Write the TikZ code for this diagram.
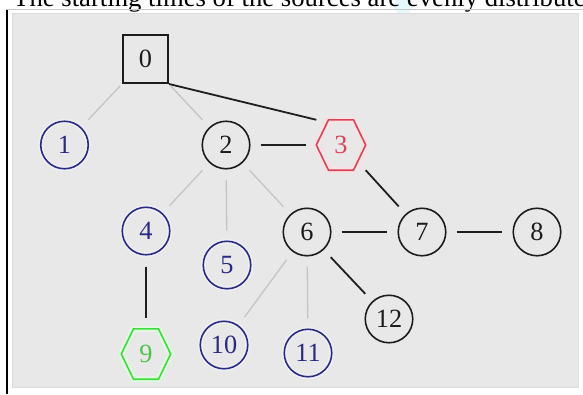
\documentclass[tikz,border=0pt]{standalone}
\usepackage{fontspec}
\setmainfont{Liberation Serif}
\usetikzlibrary{calc}

\definecolor{panelgray}{HTML}{E8E8E8}
\definecolor{paneledge}{HTML}{DCDCDC}
\definecolor{edgegray}{HTML}{C4C4C4}
\definecolor{edgedark}{HTML}{1E1E1E}
\definecolor{inkblack}{HTML}{1C1C1C}
\definecolor{navy}{HTML}{2A2A82}
\definecolor{hexred}{HTML}{D84458}
\definecolor{hexgreen}{HTML}{3CDC3C}
\definecolor{hexgreentext}{HTML}{4CC44C}

\tikzset{
  lbl/.style={font=\fontsize{26.3}{30}\selectfont, inner sep=0pt},
  circnode/.style={lbl, circle, draw=inkblack, line width=1.6pt,
    minimum size=47.5pt, text=inkblack},
  bluenode/.style={circnode, draw=navy, text=navy,
    preaction={draw=navy!8, line width=5pt}},
  squarenode/.style={lbl, rectangle, draw=inkblack, line width=2pt,
    minimum width=45pt, minimum height=48pt, text=inkblack},
  hexbox/.style={lbl, rectangle, minimum width=49pt, minimum height=50pt},
  softedge/.style={draw=edgegray, line width=1.3pt,
    shorten <=10pt, shorten >=10pt},
  hardedge/.style={draw=edgedark, line width=1.8pt,
    shorten <=10pt, shorten >=10pt},
}

% hexagon outline around a rectangular node: flat top and bottom
\newcommand\hexoutline[2]{%
  \draw[#2!16, line width=6pt, line join=round]
    (#1.west) -- ([xshift=-12.5pt]#1.north) -- ([xshift=12.5pt]#1.north)
    -- (#1.east) -- ([xshift=12.5pt]#1.south) -- ([xshift=-12.5pt]#1.south) -- cycle;
  \draw[#2, line width=1.6pt, line join=miter]
    (#1.west) -- ([xshift=-12.5pt]#1.north) -- ([xshift=12.5pt]#1.north)
    -- (#1.east) -- ([xshift=12.5pt]#1.south) -- ([xshift=-12.5pt]#1.south) -- cycle;}

\begin{document}
\begin{tikzpicture}[x=1pt, y=-1pt]
  \useasboundingbox (0,0) rectangle (583,394);
  \clip (0,0) rectangle (583,394);
  \fill[white] (0,0) rectangle (583,394);

  % caption line above the figure
  \fill[cyan!12, opacity=0.8] (403,5) ellipse [x radius=9, y radius=10];
  \node[anchor=base west, inner sep=0pt, font=\fontsize{26.7}{30}\selectfont]
    (caption) at (13,6) {The starting times of the sources are evenly distributed};
  \draw[gray!45, line width=0.6pt] (6,9.5) -- (583,9.5);

  % figure frame
  \fill[panelgray, draw=paneledge, line width=0.8pt] (12,13) rectangle (578,387);
  \draw[black, line width=2pt] (6.5,10) -- (6.5,394);

  % nodes
  \node[squarenode] (n0) at (145.5,59) {0};
  \node[bluenode]   (n1) at (64.5,145) {1};
  \node[circnode]   (n2) at (226,145) {2};
  \node[hexbox, text=hexred] (n3) at (341,145) {3};
  \node[bluenode]   (n4) at (146,231) {4};
  \node[bluenode]   (n5) at (227,265) {5};
  \node[circnode]   (n6) at (307,232) {6};
  \node[circnode]   (n7) at (422,232) {7};
  \node[circnode]   (n8) at (537,232) {8};
  \node[hexbox, text=hexgreentext] (n9) at (146,354) {9};
  \node[bluenode]   (n10) at (224,345) {10};
  \node[bluenode]   (n11) at (308,353) {11};
  \node[circnode]   (n12) at (389,319) {12};

  \hexoutline{n3}{hexred}
  \hexoutline{n9}{hexgreen}

  % connectors
  \draw[softedge, shorten <=3pt] (n0) -- (n1);
  \draw[softedge, shorten <=3pt] (n0) -- (n2);
  \draw[hardedge, shorten <=0pt, shorten >=0pt] (n0.south east) -- (n3.north west);
  \draw[hardedge] (n2) -- (n3);
  \draw[hardedge, shorten <=0pt] (n3.south east) -- (n7);
  \draw[softedge] (n2) -- (n4);
  \draw[softedge] (n2) -- (n5);
  \draw[softedge] (n2) -- (n6);
  \draw[hardedge] (n6) -- (n7);
  \draw[hardedge] (n7) -- (n8);
  \draw[hardedge] (n6) -- (n12);
  \draw[softedge] (n6) -- (n10);
  \draw[softedge] (n6) -- (n11);
  \draw[hardedge, shorten <=11pt, shorten >=11pt] (n4) -- (n9);
\end{tikzpicture}
\end{document}
